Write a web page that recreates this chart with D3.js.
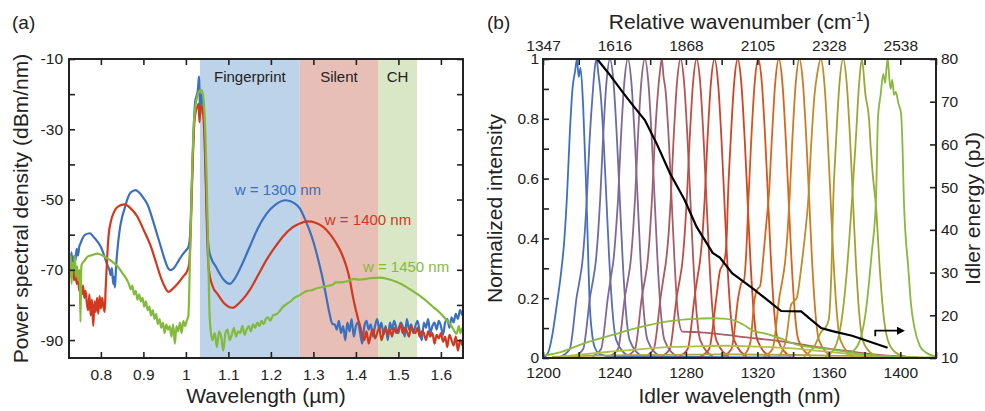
<!DOCTYPE html>
<html>
<head>
<meta charset="utf-8">
<script src="https://cdn.jsdelivr.net/npm/d3@7"></script>
<style>
  body { margin: 0; background: #fff; }
  svg { font-family: "Liberation Sans", Arial, sans-serif; }
</style>
</head>
<body>
<svg width="985" height="411"></svg>
<script>
// ---------- panel (a) data ----------
const waveTicksA = [0.8, 0.9, 1.0, 1.1, 1.2, 1.3, 1.4, 1.5, 1.6];
const psdTicks = [-90, -80, -70, -60, -50, -40, -30, -20, -10];
const psdLabels = [-90, -70, -50, -30, -10];

const regions = [
  { name: 'Fingerprint', from: 1.033, to: 1.268 },
  { name: 'Silent', from: 1.268, to: 1.452 },
  { name: 'CH', from: 1.452, to: 1.544 }
];

const widthLabels = [
  { text: 'w = 1300 nm', wl: 1.115, psd: -48.6 },
  { text: 'w = 1400 nm', wl: 1.327, psd: -57.3 },
  { text: 'w = 1450 nm', wl: 1.4165, psd: -70.5 }
];

// w = 1300 nm
const blueMain = [[0.725,-66],[0.728,-69],[0.731,-65],[0.734,-70.5],[0.737,-66],[0.740,-67.5],[0.743,-64],[0.746,-66],[0.749,-63.5],[0.752,-62.5],[0.757,-61],[0.763,-60],[0.774,-59.6],[0.782,-60.5],[0.792,-62],[0.800,-63.5],[0.808,-66],[0.815,-68.5],[0.820,-70],[0.823,-71.5],[0.826,-69.5],[0.829,-74],[0.831,-72],[0.833,-75],[0.835,-71],[0.837,-67],[0.840,-63],[0.845,-58],[0.850,-55],[0.856,-52.5],[0.862,-50],[0.870,-48],[0.882,-47.3],[0.890,-48],[0.900,-49.5],[0.910,-51.5],[0.920,-55],[0.930,-59],[0.940,-63],[0.950,-67],[0.958,-69.5],[0.965,-70.1],[0.972,-69.5],[0.980,-68],[0.990,-66],[1.000,-64.5],[1.006,-63.5],[1.010,-60],[1.013,-50],[1.016,-38],[1.019,-28],[1.022,-22],[1.025,-20.5],[1.028,-19],[1.030,-16],[1.031,-15],[1.032,-19],[1.034,-26],[1.036,-21],[1.038,-20],[1.041,-23],[1.044,-31],[1.047,-44],[1.050,-57],[1.054,-64],[1.060,-66.8],[1.070,-69],[1.080,-71.2],[1.090,-73],[1.103,-74],[1.115,-72.5],[1.130,-69],[1.150,-63.5],[1.170,-58],[1.190,-54],[1.210,-51.5],[1.235,-50.2],[1.255,-51],[1.268,-52.5],[1.280,-55.5],[1.290,-58.5],[1.300,-62],[1.310,-66.5],[1.320,-71.5],[1.330,-77.5],[1.338,-82.5],[1.345,-85.5]];
const blueFloor = { start: 1.350, step: 0.005, values: [
  -85.5,-87,-84.5,-88,-86,-90,-85,-87.5,-84,-89,
  -86,-85,-88,-91,-86,-84.5,-87,-85.5,-89,-86,
  -84,-87,-85,-88.5,-86,-90,-85,-87,-84.5,-86.5,
  -88,-85,-86,-89,-84,-87,-85.5,-88,-86,-84.5,
  -87.5,-90,-85,-86.5,-84,-88,-86,-85,-87,-84.5,
  -86,-88.5,-85,-84,-86.5,-83.5,-85,-82.5,-84,-81.5,
  -83] };

// w = 1400 nm
const redMain = [[0.725,-70],[0.728,-68],[0.731,-72],[0.734,-69],[0.737,-73],[0.740,-70.5],[0.743,-74],[0.746,-72],[0.749,-76],[0.752,-73.5],[0.755,-77],[0.758,-74.5],[0.761,-78],[0.764,-76],[0.767,-79.5],[0.770,-81.5],[0.773,-77],[0.776,-83],[0.779,-78.5],[0.782,-86],[0.785,-79],[0.788,-82],[0.791,-78],[0.794,-82.5],[0.797,-77.5],[0.800,-81],[0.803,-78],[0.806,-80.5],[0.809,-82],[0.811,-76],[0.813,-71],[0.815,-66],[0.818,-60.5],[0.824,-56],[0.831,-53.5],[0.840,-52],[0.856,-51.4],[0.870,-52.5],[0.886,-54.9],[0.900,-58.5],[0.918,-63.5],[0.930,-68],[0.942,-72.5],[0.951,-75],[0.959,-76.3],[0.968,-75.5],[0.981,-73.9],[0.993,-72],[1.004,-70.1],[1.008,-68],[1.011,-60],[1.014,-48],[1.017,-36],[1.020,-28],[1.024,-24.5],[1.027,-23.6],[1.030,-22.8],[1.032,-28],[1.034,-24],[1.037,-23.5],[1.041,-26],[1.044,-33],[1.047,-45],[1.050,-60],[1.054,-70],[1.062,-74.4],[1.075,-77],[1.090,-79.5],[1.110,-80.8],[1.125,-79.5],[1.140,-77.5],[1.150,-75.8],[1.170,-71.5],[1.189,-67.3],[1.210,-63.5],[1.228,-60.6],[1.250,-58],[1.268,-56.8],[1.287,-56.2],[1.305,-56.6],[1.323,-57.8],[1.340,-60],[1.354,-62.5],[1.367,-65.5],[1.378,-69.2],[1.386,-73],[1.393,-77.7],[1.400,-81.5],[1.405,-84]];
const redFloor = { start: 1.410, step: 0.005, values: [
  -86,-88.5,-90,-87.5,-91,-88.5,-87,-89.5,-88,-86.5,
  -90,-88,-86.5,-88.5,-87,-89,-86.5,-88,-87,-85.5,
  -88,-86.5,-87.5,-89,-86,-87.5,-88,-86.5,-89,-87.5,
  -88,-90,-87.5,-89,-88,-91,-88.5,-89.5,-88,-90.5,
  -89,-92,-88.5,-90,-91.5,-89,-93,-90,-91.5] };

// w = 1450 nm
const greenLeft = [[0.725,-67],[0.727,-72],[0.729,-66],[0.731,-74],[0.733,-68],[0.736,-70],[0.739,-66],[0.741,-72],[0.744,-69],[0.747,-73],[0.750,-70],[0.752,-84.8],[0.754,-69],[0.757,-68],[0.761,-67.5],[0.768,-66.3],[0.780,-65.8],[0.792,-65.4],[0.805,-66],[0.816,-66.8],[0.828,-67.8],[0.839,-69],[0.851,-71],[0.861,-72.8]];
const greenMid = { start: 0.866, step: 0.004, values: [
  -74,-75.5,-74.5,-77,-76,-78.5,-77,-79,-78,-80.5,
  -79,-81.5,-80.5,-83,-81.5,-84,-82.5,-85.5,-84,-86.5,
  -85,-88,-85.5,-87,-86,-89,-85.5,-91,-86,-87.5,
  -85,-88,-84.5,-86,-84.5] };
const greenPump = [[1.006,-83],[1.009,-70],[1.012,-55],[1.015,-40],[1.018,-30],[1.022,-24],[1.026,-21],[1.030,-19.5],[1.036,-18.8],[1.040,-20],[1.043,-24],[1.046,-32],[1.049,-45],[1.052,-62],[1.055,-80]];
const greenFloor = { start: 1.058, step: 0.005, values: [
  -87,-90,-88,-92,-87.5,-89,-93,-88,-87,-90,
  -88.5,-86.5,-89,-87.5,-88,-86,-88.5,-87,-86,-87.5,
  -85.5,-86.5,-85,-86,-84.5,-85.5,-84,-83.5,-84.5] };
const greenTail = [[1.205,-83],[1.215,-82.5],[1.222,-81.5],[1.228,-80.6],[1.240,-79.5],[1.248,-78.8],[1.255,-78],[1.268,-77.2],[1.285,-76],[1.296,-75.8],[1.307,-75.3],[1.325,-74.8],[1.346,-74.2],[1.352,-73.6],[1.365,-73.6],[1.386,-73],[1.395,-72.6],[1.410,-72.8],[1.433,-72.4],[1.456,-72.2],[1.475,-72.6],[1.490,-73.2],[1.504,-73.9],[1.520,-75],[1.543,-76.8],[1.560,-78.3],[1.582,-80.6],[1.600,-82.5],[1.614,-84.4],[1.625,-86],[1.632,-87.5],[1.637,-88.2],[1.642,-86],[1.646,-88],[1.650,-86.5]];

// ---------- panel (b) data ----------
const idlerTicks = [1200,1220,1240,1260,1280,1300,1320,1340,1360,1380,1400,1420];
const idlerLabelTicks = [1200,1240,1280,1320,1360,1400];
const wavenumberLabels = ['1347','1616','1868','2105','2328','2538'];
const intensityTicks = [0,0.1,0.2,0.3,0.4,0.5,0.6,0.7,0.8,0.9,1];
const intensityLabels = { 0: '0', 0.2: '0.2', 0.4: '0.4', 0.6: '0.6', 0.8: '0.8', 1: '1' };
const energyTicks = [10,20,30,40,50,60,70,80];

// normalized idler spectra, one per pump setting
const idlerSpectra = [
  [[1200,0],[1203,.02],[1205,.07],[1208,.19],[1210,.28],[1212,.4],[1213.5,.55],[1215,.75],[1216.5,.9],[1218,.96],[1219,1],[1220,.94],[1221,.97],[1222.5,.84],[1224,.6],[1225,.4],[1226,.2],[1227.5,.08],[1229,.035],[1232,.012],[1238,.005],[1260,.004],[1300,.003],[1340,.002]],
  [[1210,.005],[1215,.03],[1219,.21],[1220.5,.26],[1222,.32],[1223.5,.43],[1224.5,.53],[1226,.72],[1228,.9],[1229,.97],[1230,1],[1231,.95],[1232,.9],[1234,.72],[1235.5,.53],[1237,.34],[1239,.15],[1241,.06],[1248,.005]],
  [[1217.5,.005],[1222.5,.03],[1226.5,.21],[1228,.26],[1229.5,.32],[1231,.43],[1232,.53],[1233.5,.72],[1235.5,.92],[1237.5,1],[1239.5,.92],[1241.5,.72],[1243,.53],[1244.5,.34],[1246.5,.15],[1248.5,.06],[1255.5,.005]],
  [[1227.5,.005],[1232.5,.03],[1236.5,.21],[1238,.27],[1239.5,.33],[1241,.44],[1242,.53],[1243.5,.72],[1245.5,.92],[1247.5,1],[1249.5,.92],[1251.5,.72],[1253,.53],[1254.5,.34],[1256.5,.15],[1258.5,.06],[1265.5,.005]],
  [[1237,.005],[1242,.03],[1246,.21],[1247.5,.26],[1249,.32],[1250.5,.43],[1251.5,.53],[1253,.72],[1255,.92],[1257,1],[1259,.92],[1261,.72],[1262.5,.53],[1264,.34],[1266,.15],[1268,.06],[1275,.005]],
  [[1246.5,.005],[1251.5,.03],[1255.5,.21],[1257,.26],[1258.5,.32],[1260,.43],[1261,.53],[1262.5,.72],[1264.5,.9],[1265.5,.96],[1266.5,1],[1267.5,.94],[1268.5,.9],[1270.5,.72],[1272,.53],[1273.5,.34],[1275.5,.15],[1278,.088],[1284,.087],[1290,.085],[1303,.077],[1315,.068],[1328,.06],[1340,.05],[1353,.037],[1365,.027],[1375,.02],[1385,.012],[1400,.005]],
  [[1257,.005],[1262,.03],[1266,.21],[1267.5,.27],[1269,.33],[1270.5,.43],[1271.5,.53],[1273,.72],[1275,.92],[1277,1],[1279,.92],[1281,.72],[1282.5,.53],[1284,.34],[1286,.15],[1288,.06],[1295,.005]],
  [[1266,.005],[1271,.03],[1275,.21],[1276.5,.26],[1278,.32],[1279.5,.43],[1280.5,.53],[1282,.72],[1284,.92],[1286,1],[1288,.92],[1290,.72],[1291.5,.53],[1293,.34],[1295,.15],[1297,.06],[1304,.005]],
  [[1276,.005],[1281,.03],[1285,.21],[1286.5,.27],[1288,.33],[1289.5,.43],[1290.5,.53],[1292,.72],[1294,.92],[1296,1],[1298,.92],[1300,.72],[1301.5,.53],[1303,.34],[1305,.15],[1307,.06],[1314,.005]],
  [[1288,.005],[1293,.03],[1297,.2],[1299,.29],[1300.5,.31],[1302,.34],[1303,.43],[1303.5,.53],[1305,.72],[1307,.92],[1309,1],[1311,.92],[1313,.72],[1314.5,.53],[1316,.34],[1318,.15],[1320,.06],[1327,.005]],
  [[1300.5,.005],[1305.5,.03],[1309.5,.21],[1311,.25],[1312.5,.26],[1314,.38],[1315,.53],[1316.5,.72],[1318.5,.92],[1320.5,1],[1322.5,.92],[1324.5,.72],[1326,.53],[1327.5,.34],[1329.5,.15],[1331.5,.06],[1338.5,.005]],
  [[1312,.005],[1316,.05],[1318.5,.2],[1320,.23],[1321.5,.24],[1323.5,.35],[1325,.45],[1326.5,.55],[1328,.72],[1330,.92],[1332,1],[1334,.92],[1336,.72],[1337.5,.53],[1339,.34],[1341,.15],[1343,.06],[1350,.005]],
  [[1323.5,.005],[1328.5,.03],[1332.5,.21],[1334,.26],[1335.5,.32],[1337,.43],[1338,.53],[1339.5,.72],[1341.5,.92],[1343.5,1],[1345.5,.92],[1347.5,.72],[1349,.53],[1350.5,.34],[1352.5,.15],[1354.5,.06],[1361.5,.005]],
  [[1332,.005],[1336,.06],[1339,.18],[1340.5,.19],[1342,.2],[1344.5,.3],[1347,.43],[1348.5,.53],[1350,.7],[1352,.88],[1353.5,.95],[1355.5,1],[1357.5,.92],[1359.5,.72],[1361,.53],[1362.5,.34],[1364.5,.15],[1366.5,.06],[1373.5,.005]],
  [[1346,.005],[1352,.04],[1356,.09],[1358.5,.105],[1360,.13],[1361.5,.3],[1362.5,.53],[1364,.72],[1366,.92],[1368,1],[1370,.92],[1372,.72],[1373.5,.53],[1375,.34],[1377,.15],[1379,.06],[1383,.02],[1388,.005]],
  [[1358,.005],[1363,.03],[1367,.12],[1369.5,.25],[1371.5,.4],[1373,.53],[1375,.72],[1377,.92],[1378.5,1],[1380.5,.88],[1382.5,.8],[1383.5,.7],[1384.5,.62],[1386.5,.5],[1388.5,.3],[1390.5,.15],[1393,.06],[1397,.02],[1403,.005]],
  [[1370,.01],[1376,.04],[1380.8,.16],[1384,.35],[1386.4,.53],[1387.5,.8],[1389,.88],[1390.5,.95],[1391.5,.92],[1392.3,.97],[1393,1],[1393.8,.94],[1394.6,.9],[1395.5,.93],[1396.5,.88],[1397.5,.89],[1399,.85],[1400.4,.82],[1401.3,.7],[1402,.53],[1404.5,.3],[1406,.18],[1408,.1],[1411,.04],[1414,.02],[1420,.005]]
];

// weak broad backgrounds
const broadGreen = [[1200,.008],[1210,.02],[1221,.045],[1230,.062],[1239,.077],[1248,.093],[1258,.108],[1267,.12],[1276,.127],[1286,.131],[1295,.133],[1301,.132],[1307,.126],[1312,.112],[1318,.09],[1324,.082],[1331,.07],[1342,.045],[1352,.035],[1360,.03],[1372,.018],[1385,.009],[1400,.004],[1420,.002]];
const broadLime = [[1210,.005],[1236,.02],[1255,.03],[1273,.037],[1290,.04],[1303,.041],[1320,.038],[1338,.033],[1352,.025],[1366,.017],[1380,.01],[1395,.005]];
const broadOlive = [[1205,.004],[1230,.008],[1260,.01],[1300,.012],[1340,.01],[1380,.006],[1410,.003]];

// idler energy (right axis)
const idlerEnergy = [[1230.3,80],[1237,76.5],[1245,72],[1251,68.8],[1257,65.7],[1263.5,60.3],[1271,53.3],[1279.3,47],[1286,40.7],[1295,34.6],[1299,33.5],[1306,29.8],[1310,28.6],[1317,26.4],[1325,23.8],[1333.3,21],[1344.5,20.9],[1350,19],[1355.7,17],[1362,16.3],[1373,15.2],[1383,13.8],[1392.9,12.4]];
const energyArrow = [[1386,15.1],[1386,16.4],[1399,16.4]];

// ---------- styles ----------
const FONT = '"Liberation Sans", Arial, sans-serif';
const INK = '#222';
const TICK_FONT = 15.5;
const TITLE_FONT = 21;
const regionColors = ['#bcd3e9', '#e8bfb6', '#dae7c6'];
const seriesColors = { blue: '#3b70bf', red: '#d2381c', green: '#84ba3c' };
const peakColors = ['#3d70c0','#5a6db0','#6c6ca4','#7f6994','#8f6684','#a35f6c','#b0575a','#bd4e45','#c94532','#d2431f','#d6531b','#d4661e','#cd7a24','#c08c2a','#aa9c30','#9aa834','#88b83c'];

const svg = d3.select('svg');
const expand = seg => seg.values.map((v, i) => [seg.start + i * seg.step, v]);

function styleAxis(g) {
  g.attr('font-size', TICK_FONT).attr('font-family', FONT);
  g.select('.domain').remove();
  g.selectAll('.tick line').attr('stroke', INK).attr('stroke-width', 1.6);
  g.selectAll('.tick text').attr('fill', INK);
}

function frame(x0, y0, x1, y1) {
  svg.append('rect')
    .attr('x', x0).attr('y', y0)
    .attr('width', x1 - x0).attr('height', y1 - y0)
    .attr('fill', 'none').attr('stroke', INK).attr('stroke-width', 2);
}

// ================= panel (a) =================
const A = { left: 69, right: 463, top: 59, bottom: 358 };
const xA = d3.scaleLinear().domain([0.725, 1.652]).range([A.left, A.right]);
const yA = d3.scaleLinear().domain([-95.1, -10]).range([A.bottom, A.top]);

svg.append('clipPath').attr('id', 'clipA').append('rect')
  .attr('x', A.left).attr('y', A.top)
  .attr('width', A.right - A.left).attr('height', A.bottom - A.top);

const gA = svg.append('g');
gA.selectAll('rect.region').data(regions).enter().append('rect')
  .attr('class', 'region')
  .attr('x', d => xA(d.from)).attr('width', d => xA(d.to) - xA(d.from))
  .attr('y', A.top).attr('height', A.bottom - A.top)
  .attr('fill', (d, i) => regionColors[i]);

gA.selectAll('text.region').data(regions).enter().append('text')
  .attr('class', 'region')
  .attr('x', d => (xA(d.from) + xA(d.to)) / 2).attr('y', 82)
  .attr('text-anchor', 'middle').attr('font-size', 15).attr('fill', INK)
  .text(d => d.name);

const lineA = d3.line().x(d => xA(d[0])).y(d => yA(d[1])).curve(d3.curveMonotoneX);
const seriesA = [
  { data: blueMain.concat(expand(blueFloor)), color: seriesColors.blue },
  { data: redMain.concat(expand(redFloor)), color: seriesColors.red },
  { data: greenLeft.concat(expand(greenMid), greenPump, expand(greenFloor), greenTail), color: seriesColors.green }
];
gA.append('g').attr('clip-path', 'url(#clipA)')
  .selectAll('path').data(seriesA).enter().append('path')
  .attr('d', d => lineA(d.data))
  .attr('fill', 'none').attr('stroke', d => d.color)
  .attr('stroke-width', 2.2).attr('stroke-linejoin', 'round');

gA.selectAll('text.wlab').data(widthLabels).enter().append('text')
  .attr('class', 'wlab')
  .attr('x', d => xA(d.wl)).attr('y', d => yA(d.psd))
  .attr('font-size', 15)
  .attr('fill', (d, i) => [seriesColors.blue, seriesColors.red, seriesColors.green][i])
  .text(d => d.text);

gA.append('g').attr('transform', `translate(0,${A.bottom})`)
  .call(d3.axisBottom(xA).tickValues(waveTicksA).tickSize(-6).tickPadding(11).tickFormat(d3.format('~g')))
  .call(styleAxis);
gA.append('g').attr('transform', `translate(0,${A.top})`)
  .call(d3.axisTop(xA).tickValues(waveTicksA).tickSize(-6).tickFormat(''))
  .call(styleAxis);
gA.append('g').attr('transform', `translate(${A.left},0)`)
  .call(d3.axisLeft(yA).tickValues(psdTicks).tickSize(-6).tickPadding(6)
    .tickFormat(d => psdLabels.includes(d) ? String(d) : ''))
  .call(styleAxis);
gA.append('g').attr('transform', `translate(${A.right},0)`)
  .call(d3.axisRight(yA).tickValues(psdTicks).tickSize(-6).tickFormat(''))
  .call(styleAxis);
frame(A.left, A.top, A.right, A.bottom);

svg.append('text').attr('x', 12).attr('y', 29).attr('font-size', 19).attr('fill', INK).text('(a)');
svg.append('text').attr('x', (A.left + A.right) / 2).attr('y', 403)
  .attr('text-anchor', 'middle').attr('font-size', TITLE_FONT).attr('fill', INK).text('Wavelength (µm)');
svg.append('text').attr('transform', `translate(28,${(A.top + A.bottom) / 2}) rotate(-90)`)
  .attr('text-anchor', 'middle').attr('font-size', TITLE_FONT).attr('fill', INK)
  .text('Power spectral density (dBm/nm)');

// ================= panel (b) =================
const B = { left: 543, right: 936, top: 59, bottom: 358 };
const xB = d3.scaleLinear().domain([1200, 1420]).range([B.left, B.right]);
const yB = d3.scaleLinear().domain([0, 1]).range([B.bottom, B.top]);
const yE = d3.scaleLinear().domain([10, 80]).range([B.bottom, B.top]);

svg.append('clipPath').attr('id', 'clipB').append('rect')
  .attr('x', B.left).attr('y', B.top - 1)
  .attr('width', B.right - B.left).attr('height', B.bottom - B.top + 1);

const gB = svg.append('g');
const plotB = gB.append('g').attr('clip-path', 'url(#clipB)');
const lineB = d3.line().x(d => xB(d[0])).y(d => yB(d[1])).curve(d3.curveMonotoneX);

plotB.selectAll('path.spec').data(idlerSpectra).enter().append('path')
  .attr('class', 'spec')
  .attr('d', lineB)
  .attr('fill', 'none').attr('stroke', (d, i) => peakColors[i])
  .attr('stroke-width', 1.8).attr('stroke-linejoin', 'round');

const broad = [
  { data: broadOlive, color: '#b8a23a' },
  { data: broadLime, color: '#b2bf4a' },
  { data: broadGreen, color: '#8cbc3e' }
];
plotB.selectAll('path.broad').data(broad).enter().append('path')
  .attr('class', 'broad')
  .attr('d', d => lineB(d.data))
  .attr('fill', 'none').attr('stroke', d => d.color).attr('stroke-width', 1.8);

const lineE = d3.line().x(d => xB(d[0])).y(d => yE(d[1]));
plotB.append('path').attr('d', lineE(idlerEnergy))
  .attr('fill', 'none').attr('stroke', '#000').attr('stroke-width', 2.2);

svg.append('defs').append('marker')
  .attr('id', 'arrowHead').attr('viewBox', '0 0 10 10')
  .attr('refX', 2).attr('refY', 5)
  .attr('markerWidth', 4.5).attr('markerHeight', 4.5)
  .attr('orient', 'auto')
  .append('path').attr('d', 'M0,0 L10,5 L0,10 Z').attr('fill', '#000');
gB.append('path').attr('d', lineE(energyArrow))
  .attr('fill', 'none').attr('stroke', '#000').attr('stroke-width', 1.8)
  .attr('marker-end', 'url(#arrowHead)');

gB.append('g').attr('transform', `translate(0,${B.bottom})`)
  .call(d3.axisBottom(xB).tickValues(idlerTicks).tickSize(-6).tickPadding(9)
    .tickFormat(d => idlerLabelTicks.includes(d) ? String(d) : ''))
  .call(styleAxis);
gB.append('g').attr('transform', `translate(0,${B.top})`)
  .call(d3.axisTop(xB).tickValues(idlerTicks).tickSize(-6).tickPadding(8)
    .tickFormat(d => {
      const k = idlerLabelTicks.indexOf(d);
      return k >= 0 ? wavenumberLabels[k] : '';
    }))
  .call(styleAxis);
gB.append('g').attr('transform', `translate(${B.left},0)`)
  .call(d3.axisLeft(yB).tickValues(intensityTicks).tickSize(-6).tickPadding(4)
    .tickFormat(d => intensityLabels[d] || ''))
  .call(styleAxis);
gB.append('g').attr('transform', `translate(${B.right},0)`)
  .call(d3.axisRight(yE).tickValues(energyTicks).tickSize(-6).tickPadding(5))
  .call(styleAxis);
frame(B.left, B.top, B.right, B.bottom);

svg.append('text').attr('x', 487).attr('y', 29).attr('font-size', 19).attr('fill', INK).text('(b)');
const title = svg.append('text').attr('x', (B.left + B.right) / 2).attr('y', 29)
  .attr('text-anchor', 'middle').attr('font-size', TITLE_FONT).attr('fill', INK);
title.append('tspan').text('Relative wavenumber (cm');
title.append('tspan').attr('font-size', 13).attr('dy', -8).text('-1');
title.append('tspan').attr('dy', 8).text(')');
svg.append('text').attr('x', (B.left + B.right) / 2).attr('y', 403)
  .attr('text-anchor', 'middle').attr('font-size', TITLE_FONT).attr('fill', INK).text('Idler wavelength (nm)');
svg.append('text').attr('transform', `translate(502,${(B.top + B.bottom) / 2}) rotate(-90)`)
  .attr('text-anchor', 'middle').attr('font-size', TITLE_FONT).attr('fill', INK).text('Normalized intensity');
svg.append('text').attr('transform', `translate(980,${(B.top + B.bottom) / 2}) rotate(-90)`)
  .attr('text-anchor', 'middle').attr('font-size', TITLE_FONT).attr('fill', INK).text('Idler energy (pJ)');
</script>
</body>
</html>
